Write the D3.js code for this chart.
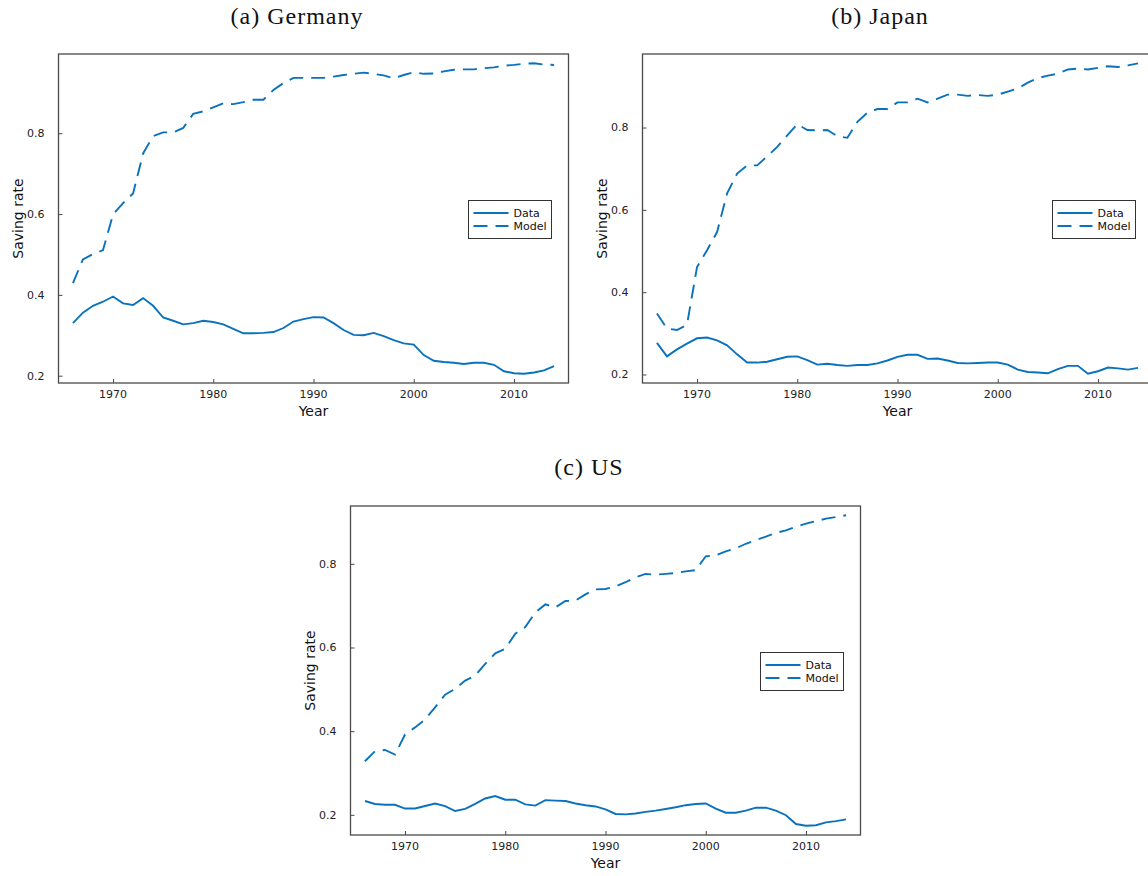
<!DOCTYPE html>
<html>
<head>
<meta charset="utf-8">
<script src="https://cdn.jsdelivr.net/npm/d3@7"></script>
<style>
	body { margin: 0; background: #fff; overflow: hidden; }
	svg { display: block; }
	.tick-label { font-family: "DejaVu Sans", sans-serif; font-size: 11px; fill: #222; }
	.axis-label { font-family: "DejaVu Sans", sans-serif; font-size: 14px; fill: #111; }
	.legend-text { font-family: "DejaVu Sans", sans-serif; font-size: 11px; fill: #111; }
	.panel-title { font-family: "Liberation Serif", serif; font-size: 24px; letter-spacing: 1px; fill: #111; }
</style>
</head>
<body>
<div id="graphic"></div>
<script>
// years on the x axis
const years = d3.range(1966, 2015);
const xTicks = [1970, 1980, 1990, 2000, 2010];
const yTicks = [0.2, 0.4, 0.6, 0.8];
const seriesNames = ['Data', 'Model'];

// (a) Germany
const germanyData = [0.330, 0.356, 0.373, 0.383, 0.396, 0.379, 0.375, 0.392, 0.373, 0.344,
	0.336, 0.327, 0.330, 0.336, 0.333, 0.327, 0.316, 0.305, 0.305, 0.306,
	0.308, 0.318, 0.334, 0.340, 0.345, 0.344, 0.330, 0.313, 0.301, 0.300,
	0.306, 0.298, 0.288, 0.280, 0.277, 0.251, 0.237, 0.234, 0.232, 0.229,
	0.232, 0.232, 0.227, 0.211, 0.206, 0.205, 0.208, 0.213, 0.224];
const germanyModel = [0.429, 0.488, 0.501, 0.511, 0.599, 0.627, 0.651, 0.750, 0.793, 0.802,
	0.802, 0.813, 0.848, 0.854, 0.864, 0.874, 0.872, 0.877, 0.883, 0.883,
	0.907, 0.924, 0.937, 0.937, 0.937, 0.937, 0.940, 0.944, 0.947, 0.950,
	0.947, 0.943, 0.936, 0.944, 0.951, 0.947, 0.948, 0.953, 0.957, 0.958,
	0.958, 0.961, 0.963, 0.967, 0.969, 0.972, 0.973, 0.970, 0.969];

// (b) Japan
const japanData = [0.277, 0.244, 0.261, 0.275, 0.288, 0.290, 0.283, 0.271, 0.249, 0.229,
	0.229, 0.231, 0.237, 0.243, 0.244, 0.235, 0.224, 0.226, 0.223, 0.221,
	0.223, 0.223, 0.227, 0.234, 0.243, 0.248, 0.248, 0.238, 0.239, 0.234,
	0.228, 0.227, 0.228, 0.229, 0.229, 0.224, 0.212, 0.206, 0.205, 0.203,
	0.213, 0.221, 0.221, 0.202, 0.208, 0.217, 0.215, 0.212, 0.216];
const japanModel = [0.348, 0.312, 0.308, 0.321, 0.461, 0.502, 0.546, 0.640, 0.688, 0.708,
	0.708, 0.730, 0.753, 0.781, 0.808, 0.794, 0.793, 0.794, 0.779, 0.775,
	0.814, 0.836, 0.845, 0.845, 0.861, 0.861, 0.870, 0.861, 0.870, 0.880,
	0.880, 0.877, 0.879, 0.877, 0.880, 0.887, 0.895, 0.909, 0.920, 0.926,
	0.931, 0.941, 0.943, 0.941, 0.945, 0.949, 0.947, 0.951, 0.956];

// (c) US
const usData = [0.233, 0.226, 0.224, 0.224, 0.215, 0.215, 0.221, 0.227, 0.221, 0.209,
	0.214, 0.226, 0.239, 0.245, 0.236, 0.236, 0.225, 0.222, 0.235, 0.234,
	0.233, 0.227, 0.223, 0.220, 0.213, 0.202, 0.201, 0.203, 0.207, 0.210,
	0.214, 0.218, 0.223, 0.226, 0.227, 0.215, 0.205, 0.205, 0.210, 0.217,
	0.217, 0.210, 0.199, 0.178, 0.174, 0.175, 0.182, 0.185, 0.189];
const usModel = [0.328, 0.352, 0.355, 0.344, 0.392, 0.409, 0.428, 0.457, 0.487, 0.501,
	0.521, 0.533, 0.561, 0.586, 0.597, 0.633, 0.649, 0.684, 0.703, 0.696,
	0.711, 0.712, 0.727, 0.739, 0.740, 0.746, 0.756, 0.768, 0.776, 0.774,
	0.776, 0.778, 0.782, 0.785, 0.818, 0.820, 0.830, 0.837, 0.848, 0.857,
	0.865, 0.874, 0.880, 0.889, 0.896, 0.902, 0.908, 0.912, 0.916];

const lineColour = '#0a72bc';
const frameColour = '#4a4a4a';

const panels = [
	{ title: '(a) Germany', data: germanyData, model: germanyModel, left: 58.5, top: 54, titleX: 297, titleY: 24 },
	{ title: '(b) Japan', data: japanData, model: japanModel, left: 642.5, top: 54, titleX: 880, titleY: 24 },
	{ title: '(c) US', data: usData, model: usModel, left: 350.5, top: 506, titleX: 589, titleY: 475 }
];

const plotWidth = 510;
const plotHeight = 329;

const svg = d3.select('#graphic')
	.append('svg')
	.attr('width', 1148)
	.attr('height', 876);

function drawPanel(p) {
	const g = svg.append('g').attr('transform', `translate(${p.left},${p.top})`);

	// x range padded 3% each side like Plots.jl
	const xExt = d3.extent(years);
	const xPad = (xExt[1] - xExt[0]) * 0.03;
	const x = d3.scaleLinear()
		.domain([xExt[0] - xPad, xExt[1] + xPad])
		.range([0, plotWidth]);

	const allVals = p.data.concat(p.model);
	const yExt = d3.extent(allVals);
	const yPad = (yExt[1] - yExt[0]) * 0.03;
	const y = d3.scaleLinear()
		.domain([yExt[0] - yPad, yExt[1] + yPad])
		.range([plotHeight, 0]);

	const rows = years.map((yr, i) => ({ year: yr, Data: p.data[i], Model: p.model[i] }));

	// frame
	g.append('rect')
		.attr('x', 0).attr('y', 0)
		.attr('width', plotWidth).attr('height', plotHeight)
		.attr('fill', 'none')
		.attr('stroke', frameColour)
		.attr('stroke-width', 1.3);

	// y axis, ticks pointing inward
	const yAxis = g.append('g')
		.call(d3.axisRight(y).tickValues(yTicks).tickSize(4).tickFormat(''));
	yAxis.select('.domain').remove();
	yAxis.selectAll('line').attr('stroke', frameColour);
	g.selectAll('text.ytick')
		.data(yTicks)
		.enter()
		.append('text')
		.attr('class', 'tick-label')
		.attr('x', -14)
		.attr('y', (d) => y(d))
		.attr('dy', '0.35em')
		.attr('text-anchor', 'end')
		.text(d3.format('.1f'));

	// x axis
	const xAxis = g.append('g')
		.attr('transform', `translate(0,${plotHeight})`)
		.call(d3.axisTop(x).tickValues(xTicks).tickSize(4).tickFormat(''));
	xAxis.select('.domain').remove();
	xAxis.selectAll('line').attr('stroke', frameColour);
	g.selectAll('text.xtick')
		.data(xTicks)
		.enter()
		.append('text')
		.attr('class', 'tick-label')
		.attr('x', (d) => x(d))
		.attr('y', plotHeight + 15)
		.attr('text-anchor', 'middle')
		.text((d) => d);

	// lines
	const line = (key) => d3.line()
		.x((d) => x(d.year))
		.y((d) => y(d[key]));

	seriesNames.forEach(function (key) {
		g.append('path')
			.datum(rows)
			.attr('fill', 'none')
			.attr('stroke', lineColour)
			.attr('stroke-width', 1.9)
			.attr('stroke-dasharray', key === 'Model' ? '14,8' : null)
			.attr('d', line(key));
	});

	// axis labels
	g.append('text')
		.attr('class', 'axis-label')
		.attr('x', plotWidth / 2)
		.attr('y', plotHeight + 33)
		.attr('text-anchor', 'middle')
		.text('Year');

	g.append('text')
		.attr('class', 'axis-label')
		.attr('transform', `translate(-36,${plotHeight / 2}) rotate(-90)`)
		.attr('text-anchor', 'middle')
		.text('Saving rate');

	// legend
	const lg = g.append('g').attr('transform', `translate(${plotWidth - 100},${plotHeight / 2 - 18})`);
	lg.append('rect')
		.attr('x', 0).attr('y', 0)
		.attr('width', 83).attr('height', 38)
		.attr('fill', '#fff')
		.attr('stroke', '#333')
		.attr('stroke-width', 1);
	seriesNames.forEach(function (key, i) {
		const ly = 12.5 + i * 13;
		lg.append('line')
			.attr('x1', 5).attr('x2', 40)
			.attr('y1', ly).attr('y2', ly)
			.attr('stroke', lineColour)
			.attr('stroke-width', 1.9)
			.attr('stroke-dasharray', key === 'Model' ? '14,8' : null);
		lg.append('text')
			.attr('class', 'legend-text')
			.attr('x', 45)
			.attr('y', ly)
			.attr('dy', '0.35em')
			.text(key);
	});

	// title
	svg.append('text')
		.attr('class', 'panel-title')
		.attr('x', p.titleX)
		.attr('y', p.titleY)
		.attr('text-anchor', 'middle')
		.text(p.title);
}

panels.forEach(drawPanel);
</script>
</body>
</html>
